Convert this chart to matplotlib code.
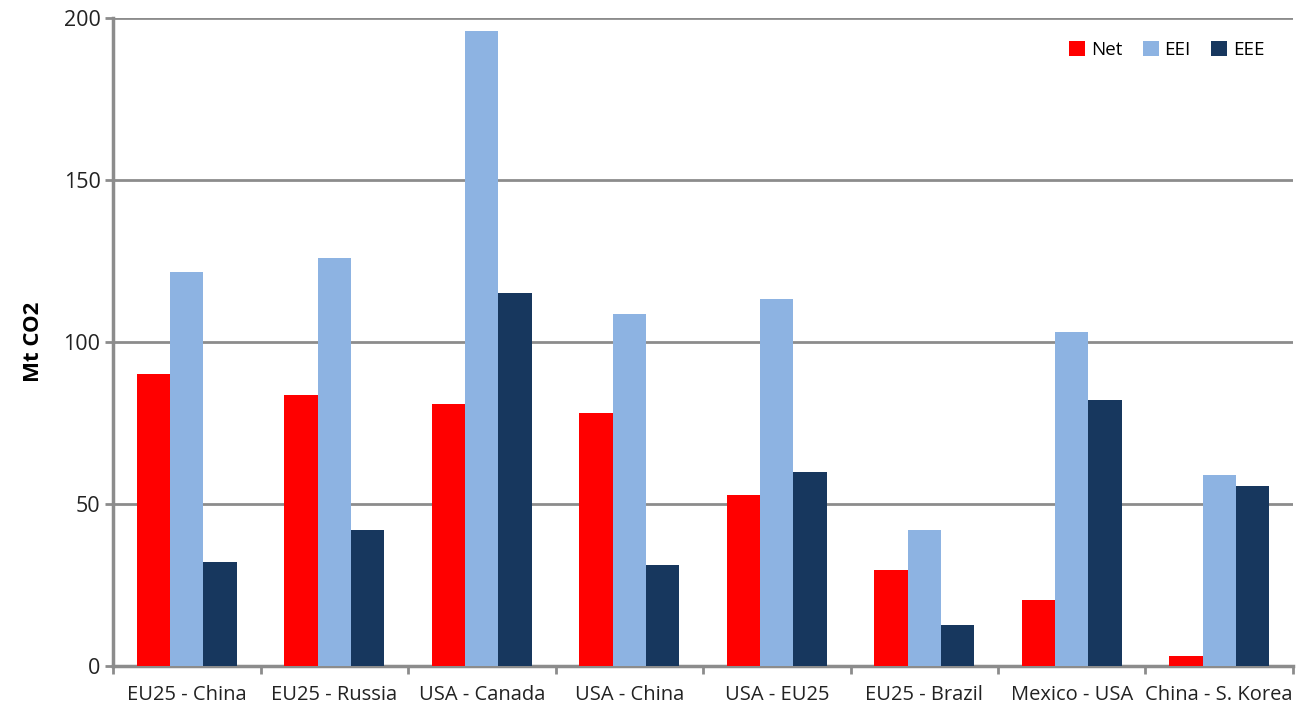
import numpy as np
import matplotlib.pyplot as plt

# Dados (Mt CO2)
pares = ['EU25 - China', 'EU25 - Russia', 'USA - Canada', 'USA - China',
         'USA - EU25', 'EU25 - Brazil', 'Mexico - USA', 'China - S. Korea']
net = [90, 83.5, 81, 78, 52.8, 29.7, 20.4, 3.2]
eei = [121.6, 126, 196, 108.7, 113.2, 42, 103, 59]
eee = [32, 42, 115.2, 31.2, 60, 12.7, 82.2, 55.7]

series = [('Net', net, '#FF0000'), ('EEI', eei, '#8DB3E2'), ('EEE', eee, '#17375E')]

plt.rcParams['font.family'] = ['Open Sans', 'DejaVu Sans']

fig = plt.figure(figsize=(13.05, 7.09), dpi=100)
ax = fig.add_axes([0.0866, 0.0607, 0.9042, 0.9139])

x = np.arange(len(pares))
largura = 0.225
for i, (nome, valores, cor) in enumerate(series):
    ax.bar(x + (i - 1) * largura, valores, largura, color=cor, label=nome, zorder=3)

ax.set_xlim(-0.5, len(pares) - 0.5)
ax.set_ylim(0, 200)
ax.set_yticks([0, 50, 100, 150, 200])
ax.set_xticks(x)
ax.set_xticklabels(pares)
ax.set_xticks(np.arange(-0.5, len(pares), 1), minor=True)

cinza = '#8C8C8C'
ax.grid(axis='y', color=cinza, linewidth=2, zorder=0)
for lado in ['top', 'right']:
    ax.spines[lado].set_visible(False)
for lado in ['left', 'bottom']:
    ax.spines[lado].set_color(cinza)
    ax.spines[lado].set_linewidth(2.5)

ax.tick_params(axis='y', colors=cinza, labelcolor='#222222', labelsize=15.5, length=6, width=2, pad=3)
ax.tick_params(axis='x', which='major', length=0, labelsize=14.5, labelcolor='#222222', pad=14)
ax.tick_params(axis='x', which='minor', length=6, width=2, color=cinza)

ax.set_ylabel('Mt CO2', fontsize=16, fontweight='bold', labelpad=14)

ax.legend(loc='upper right', bbox_to_anchor=(0.99, 0.99), ncol=3, frameon=False,
          fontsize=13.5, handlelength=0.85, handleheight=0.85, columnspacing=1.1, handletextpad=0.3)

fig.savefig('out.png', dpi=100)
